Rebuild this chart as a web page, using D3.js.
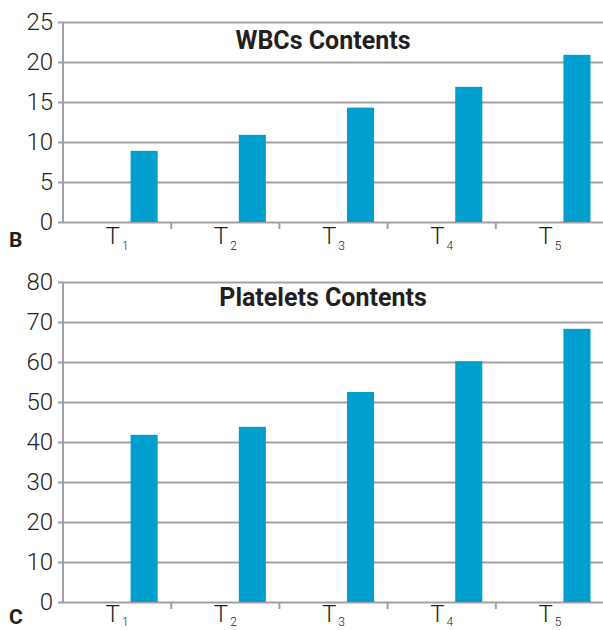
<!DOCTYPE html>
<html>
<head>
<meta charset="utf-8">
<script src="https://cdn.jsdelivr.net/npm/d3@7"></script>
<style>
  html, body { margin: 0; padding: 0; background: #fff; }
  svg { display: block; }
</style>
</head>
<body>
<div id="chart"></div>
<script>
// Data
const categories = ["1", "2", "3", "4", "5"];
const wbcValues = [8.9, 10.9, 14.3, 16.9, 20.9];
const plateletValues = [41.8, 43.8, 52.5, 60.2, 68.3];
const wbcTicks = [0, 5, 10, 15, 20, 25];
const plateletTicks = [0, 10, 20, 30, 40, 50, 60, 70, 80];

const width = 603;
const height = 630;
const barColor = "#009fcd";
const gridColor = "#a1a1a5";
const textColor = "#231f20";

const svg = d3.select("#chart")
  .append("svg")
    .attr("width", width)
    .attr("height", height);

// Shared x scale for both panels
const xScale = d3.scaleBand()
  .domain(categories)
  .range([63, 604])
  .padding(0);

const panels = [
  {title: "WBCs Contents", letter: "B", values: wbcValues, ticks: wbcTicks, top: 22, bottom: 222, titleY: 49, labelDy: 22, subDy: 6, letterDy: 25},
  {title: "Platelets Contents", letter: "C", values: plateletValues, ticks: plateletTicks, top: 282, bottom: 602, titleY: 306, labelDy: 20, subDy: 4, letterDy: 22}
];

panels.forEach(p => {
  const g = svg.append("g");

  const yScale = d3.scaleLinear()
    .domain([0, d3.max(p.ticks)])
    .range([p.bottom, p.top]);

  // gridlines + left ticks
  const leftAxis = d3.axisLeft(yScale)
    .tickValues(p.ticks)
    .tickSizeInner(-(xScale.range()[1] - xScale.range()[0]))
    .tickSizeOuter(0)
    .tickPadding(10);

  const axisG = g.append("g")
    .attr("transform", `translate(${xScale.range()[0]}, 0)`)
    .call(leftAxis);
  axisG.select(".domain").remove();
  axisG.selectAll(".tick line")
    .attr("x1", -5)
    .attr("stroke", gridColor)
    .attr("stroke-width", 2);
  axisG.selectAll(".tick text")
    .attr("fill", textColor)
    .style("font-family", "Roboto, 'Noto Sans', sans-serif")
    .style("font-weight", 300)
    .style("font-size", "24px");

  // vertical axis line
  g.append("line")
    .attr("x1", xScale.range()[0])
    .attr("x2", xScale.range()[0])
    .attr("y1", yScale.range()[1])
    .attr("y2", yScale.range()[0] + 1)
    .attr("stroke", gridColor)
    .attr("stroke-width", 2);

  // bars
  g.selectAll(".bar")
    .data(p.values)
    .join("rect")
      .attr("class", "bar")
      .attr("x", (d, i) => xScale(categories[i]) + xScale.bandwidth() * 0.625)
      .attr("width", xScale.bandwidth() * 0.25)
      .attr("y", d => yScale(d))
      .attr("height", d => yScale(0) - yScale(d))
      .attr("fill", barColor);

  // x ticks at category boundaries
  g.selectAll(".xtick")
    .data(categories.slice(1))
    .join("line")
      .attr("class", "xtick")
      .attr("x1", d => xScale(d))
      .attr("x2", d => xScale(d))
      .attr("y1", yScale(0))
      .attr("y2", yScale(0) + 7)
      .attr("stroke", gridColor)
      .attr("stroke-width", 2);

  // x labels T with subscript
  const labels = g.selectAll(".xlabel")
    .data(categories)
    .join("text")
      .attr("class", "xlabel")
      .attr("x", d => xScale(d) + xScale.bandwidth() / 2)
      .attr("y", yScale(0) + p.labelDy)
      .attr("text-anchor", "middle")
      .attr("fill", textColor)
      .style("font-family", "Roboto, 'Noto Sans', sans-serif")
      .style("font-weight", 300)
      .style("font-size", "24px");
  labels.append("tspan").text("T");
  labels.append("tspan")
    .attr("dx", 2)
    .attr("dy", p.subDy)
    .style("font-size", "12px")
    .text(d => d);

  // title
  g.append("text")
    .text(p.title)
    .attr("x", 323)
    .attr("y", p.titleY)
    .attr("text-anchor", "middle")
    .attr("fill", textColor)
    .style("font-family", "Roboto, 'Noto Sans', sans-serif")
    .style("font-weight", 700)
    .style("font-size", "25px");

  // panel letter
  g.append("text")
    .text(p.letter)
    .attr("x", 9)
    .attr("y", yScale(0) + p.letterDy)
    .attr("fill", textColor)
    .style("font-family", "Roboto, 'Noto Sans', sans-serif")
    .style("font-weight", 700)
    .style("font-size", "21px");
});
</script>
</body>
</html>
